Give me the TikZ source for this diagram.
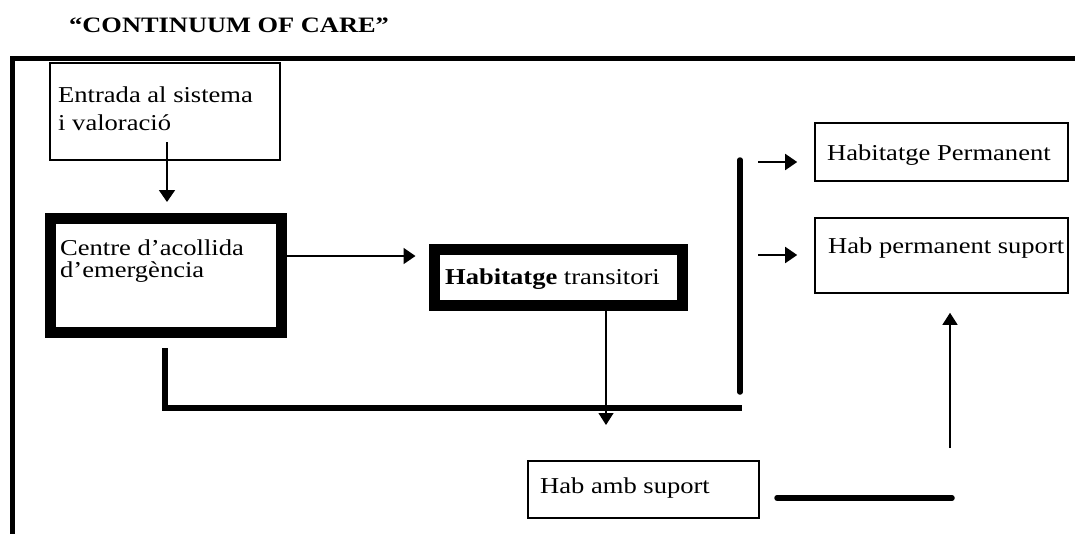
\documentclass[tikz,border=0pt]{standalone}
\usepackage{fontspec}
\setmainfont{Liberation Serif}[FakeStretch=1.17]
\newfontfamily\titlefont{Liberation Serif}[FakeStretch=1.2]
\usetikzlibrary{arrows.meta,calc}
\tikzset{
  txt/.style={anchor=base west, inner sep=0pt, font=\fontsize{22.7}{22.7}\selectfont},
  thinbox/.style={draw, line width=1.6pt, rectangle, inner sep=0pt},
  thickbox/.style={draw, line width=11pt, rectangle, inner sep=0pt},
  arr/.style={line width=1.8pt, -{Triangle[length=12pt,width=16pt]}},
  thinarr/.style={line width=1.2pt, -{Triangle[length=12pt,width=15pt]}},
  heavy/.style={line width=5.5pt, line cap=round},
  frame/.style={line width=5pt}
}
\begin{document}
\begin{tikzpicture}[x=1pt,y=-1pt]
\useasboundingbox (0,0) rectangle (1075,533);
% frame
\draw[frame] (10,58) -- (1080,58);
\draw[frame] (12.5,56) -- (12.5,540);
% title
\node[anchor=base west, inner sep=0pt, font=\titlefont\bfseries\fontsize{22}{22}\selectfont] (title) at (69,32) {“CONTINUUM OF CARE”};
% boxes
\node[thinbox, minimum width=230pt, minimum height=97pt] (e) at (165,111.5) {};
\node[txt] (e1) at (58,102) {Entrada al sistema};
\node[txt] (e2) at (58,130) {i valoració};

\node[thickbox, minimum width=231pt, minimum height=114pt] (c) at (166,275.5) {};
\node[txt] (c1) at (60,255) {Centre d’acollida};
\node[txt] (c2) at (60,277) {d’emergència};

\node[thickbox, minimum width=248pt, minimum height=56pt] (t) at (558,277) {};
\node[txt] (t1) at (445,284) {\textbf{Habitatge} transitori};

\node[thinbox, minimum width=253pt, minimum height=58pt] (p) at (941.5,152) {};
\node[txt] (p1) at (827,160) {Habitatge Permanent};

\node[thinbox, minimum width=253pt, minimum height=75pt] (s) at (941.5,255.5) {};
\node[txt] (s1) at (828,253) {Hab permanent suport};

\node[thinbox, minimum width=231pt, minimum height=57pt] (a) at (643.5,489.5) {};
\node[txt] (a1) at (540,493) {Hab amb suport};

% connector points
\coordinate (eStart) at (167,142);
\coordinate (eEnd) at ($(c.north)+(1,-11)$);
\coordinate (cEnd) at ($(t.west)+(-13,-21)$);
\coordinate (tEnd) at (606,425);
\coordinate (L1) at (165,348);
\coordinate (L2) at (165,408);
\coordinate (L3) at (742,408);
\coordinate (V1) at (740,160);
\coordinate (V2) at (740,392);
\coordinate (r1s) at (758,162);
\coordinate (r1e) at ($(p.west)+(-17,10)$);
\coordinate (r2s) at (758,255);
\coordinate (r2e) at ($(s.west)+(-17,-0.5)$);
\coordinate (uS) at (950,448);
\coordinate (uE) at ($(s.south)+(8.5,19)$);
\coordinate (h1) at (777,498);
\coordinate (h2) at (952,498);

% connectors
\draw[arr] (eStart) -- (eEnd);
\draw[arr] (c.east |- cEnd) -- (cEnd);
\draw[thinarr] (t.south -| tEnd) -- (tEnd);
\draw[heavy, line cap=butt] (L1) -- (L2) -- (L3);
\draw[heavy] (V1) -- (V2);
\draw[arr] (r1s) -- (r1e);
\draw[arr] (r2s) -- (r2e);
\draw[thinarr] (uS) -- (uE);
\draw[heavy] (h1) -- (h2);
\end{tikzpicture}
\end{document}
